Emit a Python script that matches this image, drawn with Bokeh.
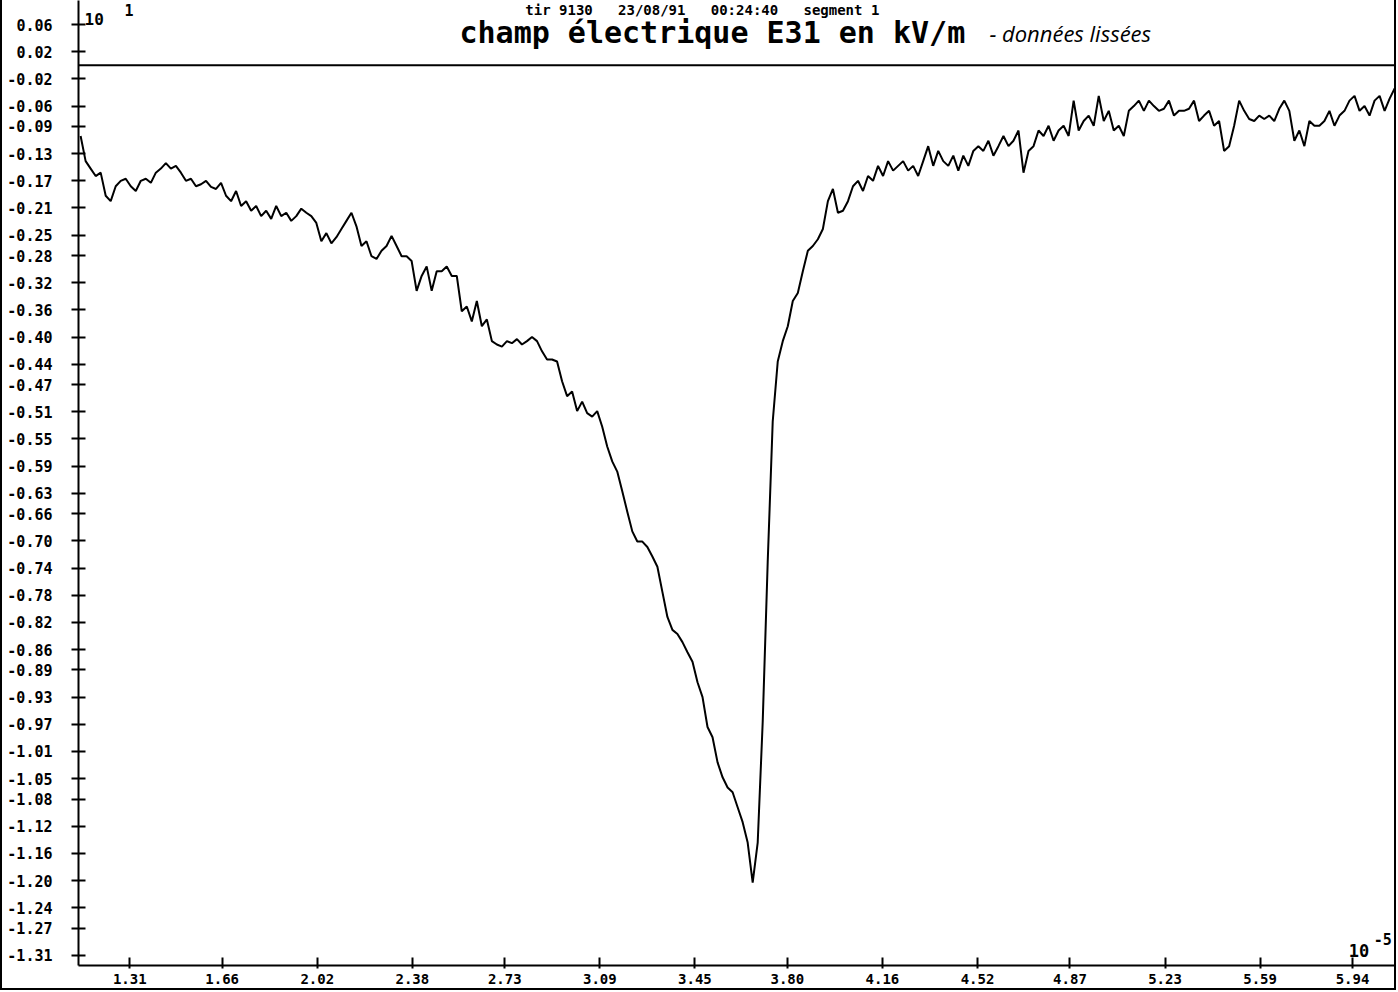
from bokeh.plotting import figure
from bokeh.models import Range1d, FixedTicker, Label, Span, NumeralTickFormatter
from bokeh.embed import file_html
from bokeh.resources import INLINE

# uniformly sampled record (time in units of 1e-5 s)
t_start = 1.124
t_step = 0.01899

# smoothed electric field E31 (units of 10 kV/m)
e31 = [
    -0.104, -0.141, -0.152, -0.163, -0.158, -0.192, -0.200, -0.178, -0.170, -0.167,
    -0.178, -0.185, -0.170, -0.167, -0.173, -0.158, -0.152, -0.144, -0.152, -0.148,
    -0.158, -0.170, -0.167, -0.178, -0.175, -0.170, -0.179, -0.182, -0.173, -0.192,
    -0.200, -0.185, -0.207, -0.200, -0.214, -0.207, -0.222, -0.214, -0.226, -0.207,
    -0.222, -0.217, -0.229, -0.222, -0.211, -0.217, -0.222, -0.232, -0.259, -0.247,
    -0.262, -0.253, -0.241, -0.229, -0.217, -0.237, -0.266, -0.259, -0.281, -0.285,
    -0.273, -0.266, -0.251, -0.266, -0.281, -0.281, -0.288, -0.332, -0.310, -0.296,
    -0.332, -0.303, -0.303, -0.296, -0.310, -0.310, -0.362, -0.355, -0.377, -0.347,
    -0.384, -0.374, -0.406, -0.411, -0.414, -0.406, -0.409, -0.403, -0.411, -0.406,
    -0.400, -0.406, -0.421, -0.433, -0.433, -0.436, -0.465, -0.487, -0.480, -0.509,
    -0.495, -0.512, -0.517, -0.509, -0.532, -0.561, -0.583, -0.598, -0.627, -0.657,
    -0.686, -0.701, -0.701, -0.709, -0.723, -0.738, -0.775, -0.812, -0.831, -0.837,
    -0.849, -0.864, -0.878, -0.908, -0.930, -0.974, -0.989, -1.026, -1.048, -1.063,
    -1.070, -1.092, -1.114, -1.144, -1.203, -1.144, -0.967, -0.731, -0.524, -0.436,
    -0.406, -0.384, -0.347, -0.335, -0.303, -0.273, -0.266, -0.256, -0.241, -0.200,
    -0.182, -0.217, -0.214, -0.200, -0.178, -0.170, -0.185, -0.163, -0.170, -0.148,
    -0.163, -0.141, -0.155, -0.148, -0.141, -0.155, -0.148, -0.163, -0.141, -0.119,
    -0.148, -0.126, -0.141, -0.148, -0.133, -0.155, -0.133, -0.148, -0.126, -0.119,
    -0.126, -0.111, -0.133, -0.119, -0.104, -0.119, -0.111, -0.096, -0.158, -0.126,
    -0.119, -0.096, -0.104, -0.089, -0.111, -0.096, -0.089, -0.104, -0.052, -0.096,
    -0.082, -0.074, -0.089, -0.045, -0.082, -0.067, -0.096, -0.089, -0.104, -0.067,
    -0.060, -0.052, -0.067, -0.052, -0.060, -0.067, -0.064, -0.052, -0.074, -0.067,
    -0.067, -0.064, -0.052, -0.082, -0.074, -0.067, -0.089, -0.082, -0.126, -0.119,
    -0.089, -0.052, -0.067, -0.079, -0.082, -0.074, -0.079, -0.074, -0.082, -0.064,
    -0.052, -0.067, -0.111, -0.096, -0.119, -0.082, -0.089, -0.089, -0.082, -0.067,
    -0.089, -0.074, -0.067, -0.052, -0.045, -0.067, -0.060, -0.074, -0.052, -0.045,
    -0.067, -0.049, -0.034,
]
t = [round(t_start + i * t_step, 4) for i in range(len(e31))]

x_ticks = [1.31, 1.66, 2.02, 2.38, 2.73, 3.09, 3.45, 3.80, 4.16, 4.52, 4.87, 5.23, 5.59, 5.94]
y_ticks = [0.06, 0.02, -0.02, -0.06, -0.09, -0.13, -0.17, -0.21, -0.25, -0.28, -0.32,
           -0.36, -0.40, -0.44, -0.47, -0.51, -0.55, -0.59, -0.63, -0.66, -0.70, -0.74,
           -0.78, -0.82, -0.86, -0.89, -0.93, -0.97, -1.01, -1.05, -1.08, -1.12, -1.16,
           -1.20, -1.24, -1.27, -1.31]

title_top = "tir 9130 \u00a0 23/08/91 \u00a0 00:24:40 \u00a0 segment 1"
title_main = "champ électrique E31 en kV/m"
title_note = "- données lissées"
y_scale_base, y_scale_exp = "10", "1"
x_scale_base, x_scale_exp = "10", "-5"

p = figure(width=1396, height=990, output_backend="svg", toolbar_location=None,
           x_range=Range1d(1.116, 6.114), y_range=Range1d(-1.325, 0.0954),
           min_border_left=76, min_border_right=0, min_border_top=0, min_border_bottom=25,
           styles={"border-left": "2px solid black", "border-right": "2px solid black",
                   "border-bottom": "2px solid black"})
p.outline_line_color = None
p.grid.visible = False
p.background_fill_color = "white"
p.border_fill_color = "white"

p.xaxis.ticker = FixedTicker(ticks=x_ticks)
p.yaxis.ticker = FixedTicker(ticks=y_ticks)
p.xaxis.formatter = NumeralTickFormatter(format="0.00")
p.yaxis.formatter = NumeralTickFormatter(format="0.00")
p.axis.minor_tick_line_color = None
p.axis.axis_line_width = 2
p.axis.axis_line_color = "black"
p.axis.major_tick_line_width = 2
p.axis.major_tick_line_color = "black"
p.axis.major_label_text_font = "DejaVu Sans Mono"
p.axis.major_label_text_font_style = "bold"
p.axis.major_label_text_color = "black"
p.yaxis.major_label_text_font_size = "15px"
p.xaxis.major_label_text_font_size = "14px"
p.yaxis.major_tick_in = 7
p.yaxis.major_tick_out = 7
p.yaxis.major_label_standoff = 19
p.xaxis.major_tick_in = 8
p.xaxis.major_tick_out = 3
p.xaxis.major_label_standoff = 5

p.add_layout(Span(location=0, dimension="width", line_color="black", line_width=2))

p.line(t, e31, line_color="black", line_width=2)

font = "DejaVu Sans Mono"
p.add_layout(Label(x=3.478, y=0.0932, text=title_top, text_align="center",
                   text_baseline="top", text_font=font, text_font_style="bold",
                   text_font_size="14px", text_color="black"))
p.add_layout(Label(x=3.516, y=0.0482, text=title_main, text_align="center",
                   text_baseline="middle", text_font=font, text_font_style="bold",
                   text_font_size="30px", text_color="black"))
p.add_layout(Label(x=4.565, y=0.0482, text=title_note, text_align="left",
                   text_baseline="middle", text_font="Open Sans", text_font_style="italic",
                   text_font_size="22px", text_color="black"))
p.add_layout(Label(x=1.139, y=0.068, text=y_scale_base, text_align="left",
                   text_baseline="middle", text_font=font, text_font_style="bold",
                   text_font_size="16px", text_color="black"))
p.add_layout(Label(x=1.29, y=0.0905, text=y_scale_exp, text_align="left",
                   text_baseline="top", text_font=font, text_font_style="bold",
                   text_font_size="15px", text_color="black"))
p.add_layout(Label(x=5.926, y=-1.303, text=x_scale_base, text_align="left",
                   text_baseline="middle", text_font=font, text_font_style="bold",
                   text_font_size="17px", text_color="black"))
p.add_layout(Label(x=6.02, y=-1.286, text=x_scale_exp, text_align="left",
                   text_baseline="middle", text_font=font, text_font_style="bold",
                   text_font_size="15px", text_color="black"))

open("out.html", "w").write(file_html(p, INLINE))
